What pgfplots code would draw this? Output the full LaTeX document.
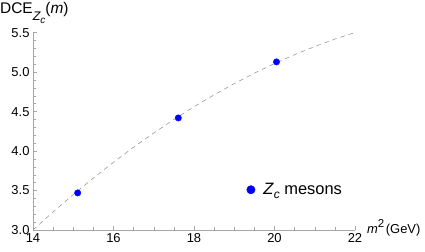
\documentclass[border=0pt]{standalone}
\usepackage{pgfplots}
\pgfplotsset{compat=1.18}
\usepackage{fontspec}
\setmainfont{Liberation Sans}
\definecolor{axgray}{gray}{0.65}
\definecolor{curvegray}{gray}{0.6}
\begin{document}
\begin{tikzpicture}
\useasboundingbox (-33bp,-22bp) rectangle (392bp,230bp);
\begin{axis}[
  at={(0,0)}, anchor=south west,
  scale only axis, width=322bp, height=197.3bp,
  xmin=14, xmax=22, ymin=3.0, ymax=5.5,
  axis lines=left,
  axis line style={-, draw=axgray, line width=0.6bp},
  xtick={14,16,18,20,22},
  ytick={3.0,3.5,4.0,4.5,5.0,5.5},
  minor x tick num=3,
  minor y tick num=4,
  major tick length=4bp,
  minor tick length=2.5bp,
  tick style={draw=axgray, line width=0.5bp},
  tick align=inside,
  /pgf/number format/assume math mode=true,
  ticklabel style={font=\fontsize{13}{15}\selectfont},
  yticklabel style={/pgf/number format/fixed, /pgf/number format/fixed zerofill, /pgf/number format/precision=1},
  xticklabel style={/pgf/number format/fixed, /pgf/number format/precision=0},
  xlabel={\textit{m}\raisebox{0.5em}{\fontsize{11.5}{12}\selectfont 2}\hspace{1.5bp}(GeV)},
  every axis x label/.style={at={(axis description cs:1,0)}, anchor=base west, xshift=12bp, yshift=-3.5bp, font=\fontsize{13}{15}\selectfont, inner sep=0pt},
  ylabel={DCE\raisebox{-0.45em}{\fontsize{12.5}{13}\selectfont\itshape Z\raisebox{-0.25em}{\fontsize{10}{10}\selectfont c}}(\textit{m})},
  every axis y label/.style={at={(axis description cs:0,1)}, anchor=base west, xshift=-33bp, yshift=19.5bp, font=\fontsize{15.5}{17}\selectfont, inner sep=0pt},
  legend style={at={(axis cs:19.30,3.51)}, anchor=west, draw=none, fill=none, inner sep=0pt, font=\fontsize{16.5}{19}\selectfont},
  legend cell align=left,
  legend image code/.code={\fill[blue] (0bp,0bp) circle (4.2bp);},
  clip=false,
]
\addplot[curvegray, dash pattern=on 4.5bp off 4bp, line width=0.6bp, forget plot] coordinates {
(14.0,3.000) (14.5,3.229) (15.0,3.449) (15.5,3.658) (16.0,3.858) (16.5,4.049)
(17.0,4.229) (17.5,4.400) (18.0,4.562) (18.5,4.713) (19.0,4.855) (19.5,4.987)
(20.0,5.110) (20.5,5.222) (21.0,5.325) (21.5,5.419) (22.0,5.502)
};
\addplot[only marks, mark=*, mark size=3.2bp, blue, mark options={draw=blue, fill=blue}] coordinates {
(15.11,3.47) (17.61,4.42) (20.05,5.13)
};
\addlegendentry{\hspace*{6bp}\textit{Z}\raisebox{-0.25em}{\fontsize{12}{12}\selectfont\itshape c} mesons}
\end{axis}
\end{tikzpicture}
\end{document}
